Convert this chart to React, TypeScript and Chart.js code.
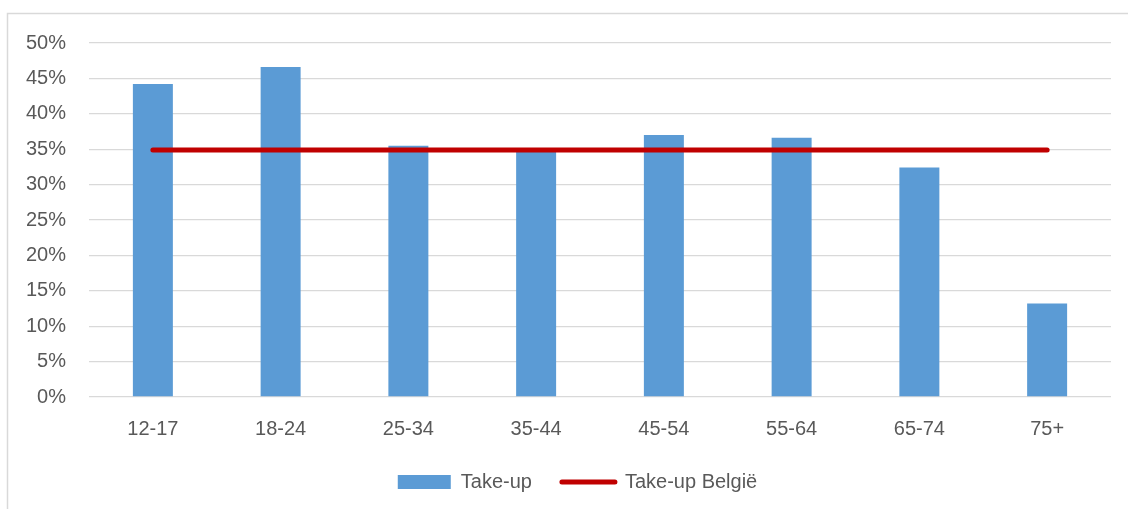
import React, { useEffect, useRef } from "react";
import { Chart, registerables } from "chart.js";

Chart.register(...registerables);

const categories = ["12-17", "18-24", "25-34", "35-44", "45-54", "55-64", "65-74", "75+"];
const takeUp = [44.2, 46.6, 35.5, 34.7, 37.0, 36.6, 32.4, 13.2];
const takeUpBelgie = [34.9, 34.9, 34.9, 34.9, 34.9, 34.9, 34.9, 34.9];
const seriesNames = ["Take-up", "Take-up België"];

const FONT = "'Liberation Sans', Arial, sans-serif";
const TEXT = "#595959";

const borderPlugin = {
  id: "outerBorder",
  afterLayout(chart: any) {
    if (chart.legend) {
      chart.legend.left += 12;
      chart.legend.right += 12;
    }
  },
  beforeDraw(chart: any) {
    const ctx = chart.ctx;
    ctx.save();
    ctx.strokeStyle = "#D9D9D9";
    ctx.lineWidth = 1.5;
    ctx.strokeRect(7.5, 13.5, 1300, 700);
    ctx.restore();
  },
};

export default function App() {
  const ref = useRef<HTMLCanvasElement | null>(null);
  useEffect(() => {
    if (!ref.current) return;
    const chart = new Chart(ref.current, {
      type: "bar",
      data: {
        labels: categories,
        datasets: [
          {
            type: "bar",
            label: seriesNames[0],
            data: takeUp,
            backgroundColor: "#5B9BD5",
            borderWidth: 0,
            categoryPercentage: 1,
            barPercentage: 0.313,
            order: 1,
          },
          {
            type: "line",
            label: seriesNames[1],
            data: takeUpBelgie,
            borderColor: "#C00000",
            backgroundColor: "#C00000",
            borderWidth: 5,
            borderCapStyle: "round",
            pointRadius: 0,
            fill: false,
            order: 0,
          } as any,
        ],
      },
      options: {
        responsive: false,
        animation: false,
        layout: { padding: { top: 43, left: 20, right: 17, bottom: 7 } },
        plugins: {
          tooltip: { enabled: false },
          legend: {
            position: "bottom",
            labels: {
              usePointStyle: true,
              pointStyleWidth: 53,
              boxWidth: 53,
              boxHeight: 14,
              padding: 30,
              color: TEXT,
              font: { family: FONT, size: 20 },
              sort: (a: any, b: any) => a.datasetIndex - b.datasetIndex,
              generateLabels: (chart: any) =>
                chart.data.datasets.map((ds: any, i: number) => ({
                  text: ds.label,
                  datasetIndex: i,
                  fillStyle: ds.type === "bar" ? ds.backgroundColor : "rgba(0,0,0,0)",
                  strokeStyle: ds.type === "bar" ? ds.backgroundColor : ds.borderColor,
                  lineWidth: ds.type === "bar" ? 0 : ds.borderWidth,
                  lineCap: "round",
                  pointStyle: ds.type === "bar" ? "rect" : "line",
                  fontColor: TEXT,
                  hidden: false,
                })),
            },
          },
        },
        scales: {
          x: {
            grid: { display: false },
            border: { display: false },
            afterFit: (scale: any) => {
              scale.height = 45;
            },
            ticks: { color: TEXT, font: { family: FONT, size: 20 }, padding: 12, maxRotation: 0 },
          },
          y: {
            min: 0,
            max: 50,
            grid: { color: "#D9D9D9", lineWidth: 1.3, drawTicks: false },
            border: { display: false },
            afterFit: (scale: any) => {
              scale.width = 69;
            },
            ticks: {
              stepSize: 5,
              padding: 23,
              color: TEXT,
              font: { family: FONT, size: 20 },
              callback: (v: any) => v + "%",
            },
          },
        },
      },
      plugins: [borderPlugin],
    } as any);
    return () => chart.destroy();
  }, []);
  return (
    <div style={{ position: "absolute", left: 0, top: 0, width: 1128, height: 509, background: "#fff" }}>
      <canvas ref={ref} width={1128} height={509} style={{ display: "block" }} />
    </div>
  );
}
